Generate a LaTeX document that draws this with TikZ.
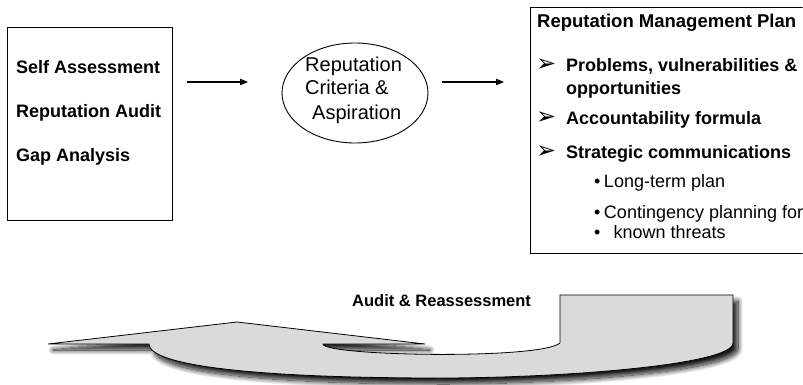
\documentclass[tikz,border=0pt]{standalone}
\usepackage{fontspec}
\setmainfont{Liberation Sans}
\newfontfamily\dejavu{DejaVu Sans}
\usetikzlibrary{arrows.meta,shapes.geometric,shadows.blur}
\definecolor{arrowgray}{RGB}{218,218,218}
\newcommand\myarrbullet{\makebox[29pt][l]{\hspace{-1pt}\dejavu\fontsize{24}{24}\selectfont ➢}}
\begin{document}
\begin{tikzpicture}[x=1pt,y=-1pt,
  boxline/.style={draw=black,line width=0.9pt,rectangle,inner sep=0pt},
  bigb/.style={font=\fontsize{18}{22}\selectfont\bfseries, inner sep=0pt, anchor=base west},
  regt/.style={font=\fontsize{18}{22}\selectfont, inner sep=0pt, anchor=base west},
  ellt/.style={font=\fontsize{20}{24}\selectfont, inner sep=0pt, anchor=base west},
  flow/.style={line width=1.3pt, -{Triangle[length=8pt,width=6.5pt]}},
  ]
\useasboundingbox (0,0) rectangle (803,385);

% left box
\node[boxline, minimum width=165pt, minimum height=193pt] (selfbox) at (89.5,123.5) {};
\node[bigb] (sa) at (16,73.3) {Self Assessment};
\node[bigb] (ra) at (16,117.3) {Reputation Audit};
\node[bigb] (ga) at (16,161.7) {Gap Analysis};

% arrow 1
\coordinate (a1s) at (187,82);
\coordinate (a1e) at (248,82);
\draw[flow] (a1s) -- (a1e);

% ellipse
\node[draw=black, line width=0.9pt, ellipse, minimum width=146pt, minimum height=100pt, inner sep=0pt] (crit) at (355,93) {};
\node[ellt] (c1) at (305,71.7) {Reputation};
\node[ellt] (c2) at (305,95) {Criteria \&};
\node[ellt] (c3) at (312,120) {Aspiration};

% arrow 2
\coordinate (a2s) at (442,82);
\coordinate (a2e) at (504,82);
\draw[flow] (a2s) -- (a2e);

% right box
\begin{scope}
\clip (0,0) rectangle (802.5,385);
\node[boxline, minimum width=276pt, minimum height=246pt] (plan) at (668,130) {};
\end{scope}
\node[font=\fontsize{18.5}{22}\selectfont\bfseries, inner sep=0pt, anchor=base west] (title) at (537,27.3) {Reputation Management Plan};
\node[bigb] (p1) at (537,71.7) {\myarrbullet Problems, vulnerabilities \&};
\node[bigb] (p1b) at (566,95) {opportunities};
\node[bigb] (p2) at (537,125) {\myarrbullet Accountability formula};
\node[bigb] (p3) at (537,158) {\myarrbullet Strategic communications};
\node[regt] (s1) at (594,187) {•\hspace{3.5pt}Long-term plan};
\node[regt] (s2) at (594,218) {•\hspace{3.5pt}Contingency planning for};
\node[regt] (s3) at (594,238) {•\hspace{13pt}known threats};

% bottom curved arrow
\path[draw=black, line width=0.8pt, fill=arrowgray,
  blur shadow={shadow xshift=5pt, shadow yshift=-6pt, shadow blur radius=5pt, shadow blur steps=14, shadow opacity=90}]
  (48,344) -- (237,322) -- (425,344) -- (323,344)
  .. controls (323,356) and (540,360) .. (560,343)
  -- (560,295) -- (733,295) -- (733,343)
  .. controls (733,365) and (560,378) .. (440,378)
  .. controls (250,378) and (149,365) .. (149,344) -- cycle;
\node[font=\fontsize{16.5}{20}\selectfont\bfseries, inner sep=0pt, anchor=base west] (audit) at (352,306.7) {Audit \& Reassessment};
\end{tikzpicture}
\end{document}
